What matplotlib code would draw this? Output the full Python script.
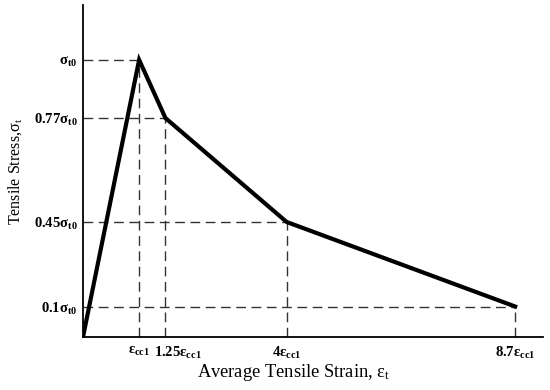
import matplotlib
matplotlib.use("Agg")
import matplotlib.pyplot as plt
from matplotlib.transforms import ScaledTranslation

plt.rcParams['mathtext.fontset'] = 'custom'
plt.rcParams['mathtext.rm'] = 'Liberation Serif'
plt.rcParams['mathtext.bf'] = 'Liberation Serif:bold'
plt.rcParams['mathtext.it'] = 'Liberation Serif:italic'
plt.rcParams['font.family'] = ['Liberation Serif', 'DejaVu Serif']

# Key points of the tensile stress-strain curve (positions as drawn)
strain_pos = [0.0, 1.13, 1.66, 4.1, 8.7]
stress_pos = [0.0, 1.0, 0.79, 0.415, 0.11]
x_tick_labels = [r'$\mathbf{ε_{cc1}}$', r'$\mathbf{1.25ε_{cc1}}$',
                 r'$\mathbf{4ε_{cc1}}$', r'$\mathbf{8.7ε_{cc1}}$']
y_tick_labels = [r'$\mathbf{σ_{t0}}$', r'$\mathbf{0.77σ_{t0}}$',
                 r'$\mathbf{0.45σ_{t0}}$', r'$\mathbf{0.1σ_{t0}}$']

fig = plt.figure(figsize=(5.5, 3.9), dpi=100)
ax = fig.add_axes([83/550, 1-337/390, (543-83)/550, (337-5)/390])

ax.set_xlim(0, 9.26)
ax.set_ylim(0, 1.198)

for x, y in zip(strain_pos[1:], stress_pos[1:]):
    ax.plot([0, x], [y, y], color='#333333', lw=1.0, ls=(0, (7, 4)), zorder=1)
    ax.plot([x, x], [0, y], color='#333333', lw=1.0, ls=(0, (7, 4)), zorder=1)

ax.plot(strain_pos, stress_pos, color='black', lw=3.0, solid_joinstyle='miter', zorder=3)

for s in ['top', 'right']:
    ax.spines[s].set_visible(False)
for s in ['left', 'bottom']:
    ax.spines[s].set_linewidth(1.3)

ax.set_xticks(strain_pos[1:])
ax.set_xticklabels(x_tick_labels, fontsize=10.5)
ax.set_yticks(stress_pos[1:])
ax.set_yticklabels(y_tick_labels, fontsize=10.5)
ax.tick_params(axis='x', length=0, pad=6)
ax.tick_params(axis='y', length=0, pad=4)

# shift the 1.25 label right to avoid overlap, as in the reference
lbl = ax.get_xticklabels()[1]
lbl.set_transform(lbl.get_transform() + ScaledTranslation(12/100, 0, fig.dpi_scale_trans))

ax.set_xlabel(r'Average Tensile Strain, $\mathrm{ε_t}$', fontsize=13.3, labelpad=2)
ax.xaxis.set_label_coords((294-83)/460, -0.075)
ax.xaxis.label.set_va('top')
ax.set_ylabel(r'Tensile Stress,$\mathrm{σ_t}$', fontsize=11.5)
ax.yaxis.set_label_coords(-(83-15)/460, (337-171)/332)
ax.yaxis.label.set_va('center')

fig.savefig('out.png', dpi=100)
